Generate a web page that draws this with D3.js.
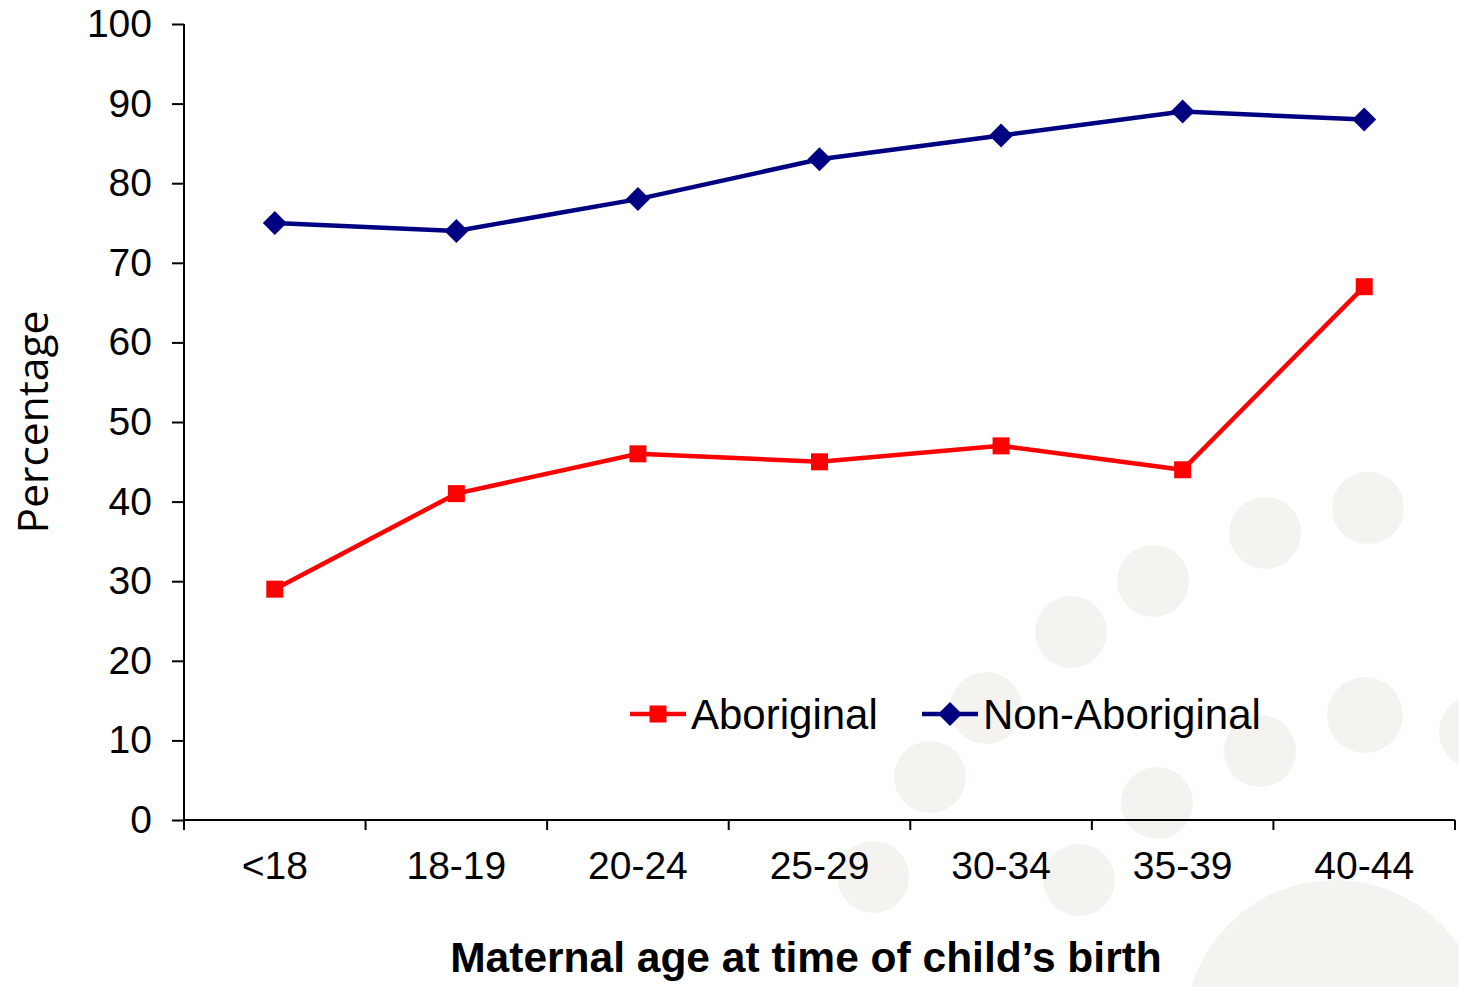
<!DOCTYPE html>
<html>
<head>
<meta charset="utf-8">
<script src="https://cdn.jsdelivr.net/npm/d3@7"></script>
<style>
  body { margin: 0; background: #fff; }
  svg text { font-family: "Liberation Sans", Arial, sans-serif; fill: #000; }
</style>
</head>
<body>
<svg id="chart" width="1459" height="987"></svg>
<script>
/* ==== Data ==== */
var ageGroups = ["<18", "18-19", "20-24", "25-29", "30-34", "35-39", "40-44"];
var aboriginal = [29, 41, 46, 45, 47, 44, 67];
var nonAboriginal = [75, 74, 78, 83, 86, 89, 88];
var yTicks = [0, 10, 20, 30, 40, 50, 60, 70, 80, 90, 100];

// faint beige dots in the background (decoration, not data)
var bgDots = [
  [1368, 508, 36], [1265, 533, 36], [1153, 581, 36], [1071, 632, 36],
  [986, 708, 36], [930, 777, 36], [1260, 751, 36], [1365, 715, 38],
  [1157, 803, 36], [1475, 732, 36], [873, 877, 36], [1079, 880, 36],
  [1335, 1030, 150]
];

/* ==== Layout ==== */
var LEFT = 184, RIGHT = 1455, TOP = 24, BOTTOM = 820;
var svg = d3.select("#chart");

svg.append("g").selectAll("circle")
   .data(bgDots)
   .enter().append("circle")
   .attr("cx", d => d[0]).attr("cy", d => d[1]).attr("r", d => d[2])
   .attr("fill", "#f4f3ef");

var x = d3.scaleBand().domain(ageGroups).range([LEFT, RIGHT]);
var y = d3.scaleLinear().domain([0, 100]).range([BOTTOM, TOP]);

/* ==== Axes ==== */
var yAxis = svg.append("g")
   .attr("transform", "translate(" + LEFT + ",0)")
   .call(d3.axisLeft(y).tickValues(yTicks).tickSize(12).tickPadding(20));
yAxis.select(".domain").attr("stroke", "#000").attr("stroke-width", 2).attr("d", "M0," + TOP + "V" + BOTTOM);
yAxis.selectAll(".tick line").attr("stroke", "#000").attr("stroke-width", 2);
yAxis.selectAll(".tick text").attr("font-size", 39).attr("font-family", "Liberation Sans, Arial, sans-serif").attr("fill", "#000");

var xAxis = svg.append("g")
   .attr("transform", "translate(0," + BOTTOM + ")")
   .call(d3.axisBottom(x).tickSize(0).tickPadding(26));
xAxis.select(".domain").attr("stroke", "#000").attr("stroke-width", 2).attr("d", "M" + LEFT + ",0H" + RIGHT);
xAxis.selectAll(".tick text").attr("font-size", 39).attr("font-family", "Liberation Sans, Arial, sans-serif").attr("fill", "#000").attr("dy", "0.85em");

// category boundary ticks
var bounds = ageGroups.map(d => x(d)).concat([RIGHT]);
svg.append("g").selectAll("line")
   .data(bounds)
   .enter().append("line")
   .attr("x1", d => d).attr("x2", d => d)
   .attr("y1", BOTTOM).attr("y2", BOTTOM + 10)
   .attr("stroke", "#000").attr("stroke-width", 2);

/* ==== Titles ==== */
svg.append("text")
   .attr("transform", "translate(48," + ((TOP + BOTTOM) / 2) + ") rotate(-90)")
   .attr("text-anchor", "middle")
   .style("font-family", "'Open Sans', 'Noto Sans', sans-serif")
   .attr("font-size", 42.5)
   .text("Percentage");

svg.append("text")
   .attr("x", 806).attr("y", 972)
   .attr("text-anchor", "middle")
   .attr("font-size", 42.5).attr("font-weight", "bold")
   .text("Maternal age at time of child\u2019s birth");

/* ==== Lines ==== */
var cx = d => x(d) + x.bandwidth() / 2;
var line = d3.line().x((d, i) => cx(ageGroups[i])).y(d => y(d));

svg.append("path").datum(aboriginal)
   .attr("d", line).attr("fill", "none")
   .attr("stroke", "#ff0000").attr("stroke-width", 4.5);
svg.append("path").datum(nonAboriginal)
   .attr("d", line).attr("fill", "none")
   .attr("stroke", "#000080").attr("stroke-width", 4.5);

var square = d3.symbol().type(d3.symbolSquare).size(17 * 17)();
var diamond = "M0,-12L12,0L0,12L-12,0Z";

svg.append("g").selectAll("path")
   .data(aboriginal)
   .enter().append("path")
   .attr("d", square)
   .attr("transform", (d, i) => "translate(" + cx(ageGroups[i]) + "," + y(d) + ")")
   .attr("fill", "#ff0000");
svg.append("g").selectAll("path")
   .data(nonAboriginal)
   .enter().append("path")
   .attr("d", diamond)
   .attr("transform", (d, i) => "translate(" + cx(ageGroups[i]) + "," + y(d) + ")")
   .attr("fill", "#000080");

/* ==== Legend ==== */
var legend = [
  { label: "Aboriginal", color: "#ff0000", shape: square, x: 630 },
  { label: "Non-Aboriginal", color: "#000080", shape: diamond, x: 922 }
];
var LEG_Y = 714;
var legItems = svg.append("g").selectAll("g")
   .data(legend)
   .enter().append("g")
   .attr("transform", d => "translate(" + d.x + "," + LEG_Y + ")");
legItems.append("line")
   .attr("x1", 0).attr("x2", 56).attr("y1", 0).attr("y2", 0)
   .attr("stroke", d => d.color).attr("stroke-width", 4.5);
legItems.append("path")
   .attr("d", d => d.shape)
   .attr("transform", "translate(28,0)")
   .attr("fill", d => d.color);
legItems.append("text")
   .attr("x", 61).attr("y", 15)
   .attr("font-size", 42)
   .text(d => d.label);
</script>
</body>
</html>
